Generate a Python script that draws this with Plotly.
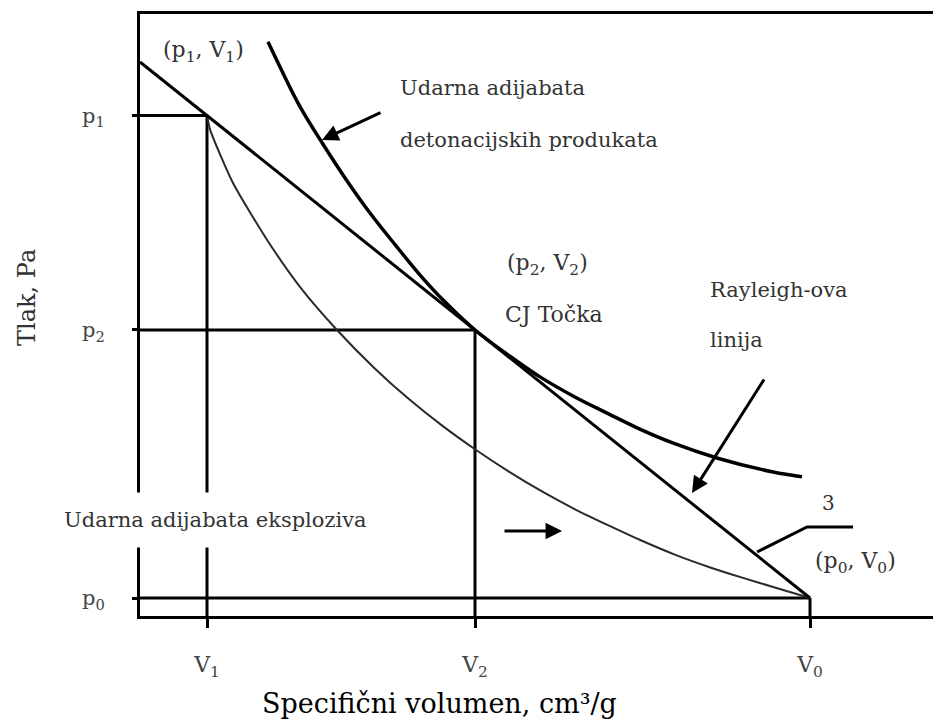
import plotly.graph_objects as go

# ---- data (schematic units) ----
V1, V2, V0 = 1.0, 5.0, 10.0
p0, p2, p1 = 1.0, 5.0, 8.2
tick_v = [V1, V2, V0]
tick_v_text = ["V<sub>1</sub>", "V<sub>2</sub>", "V<sub>0</sub>"]
tick_p = [p0, p2, p1]
tick_p_text = ["p<sub>0</sub>", "p<sub>2</sub>", "p<sub>1</sub>"]

# Rayleigh line through (V0,p0) and (V2,p2)
rayleigh_v = [0.0, V0]
rayleigh_p = [9.0, p0]

# shock adiabat of the explosive (thin curve)
expl_v = [1.0, 1.05, 1.39, 1.9, 2.39, 2.94, 3.5, 4.0, 4.5, 5.0, 5.5, 6.0, 6.5, 7.0,
          7.5, 8.0, 8.5, 9.0, 9.5, 10.0]
expl_p = [8.2, 7.98, 7.19, 6.34, 5.64, 5.0, 4.43, 3.98, 3.58, 3.22, 2.89, 2.59, 2.32,
          2.08, 1.85, 1.64, 1.46, 1.3, 1.15, 1.0]

# shock adiabat of the detonation products (thick curve)
det_v = [1.91, 2.16, 2.39, 2.72, 3.06, 3.43, 3.81, 4.18, 4.55, 5.0, 5.52, 5.97, 6.49,
         6.97, 7.46, 7.96, 8.61, 9.45, 9.88]
det_p = [9.30, 8.78, 8.33, 7.79, 7.27, 6.75, 6.27, 5.82, 5.42, 5.0, 4.61, 4.30, 4.0,
         3.76, 3.52, 3.31, 3.09, 2.88, 2.81]

XR = [0.0, 11.955]
YR = [0.7313, 9.716]

SERIF = "DejaVu Serif"
TXT = "#333333"

fig = go.Figure()

blk = dict(color="black", width=3)

# guide lines
ybot = YR[0]
fig.add_trace(go.Scatter(
    x=[0, V1, None, 0, V2, None, 0, V0, None, V1, V1, None, V2, V2, None, V0, V0],
    y=[p1, p1, None, p2, p2, None, p0, p0, None, ybot, p1, None, ybot, p2, None, ybot, p0],
    mode="lines", line=blk, hoverinfo="skip", showlegend=False, cliponaxis=False))

# explosive adiabat
fig.add_trace(go.Scatter(x=expl_v, y=expl_p, mode="lines",
                         line=dict(color="#2a2a2a", width=2, shape="spline", smoothing=0.6),
                         showlegend=False, hoverinfo="skip"))
# Rayleigh line
fig.add_trace(go.Scatter(x=rayleigh_v, y=rayleigh_p, mode="lines", line=blk,
                         showlegend=False, hoverinfo="skip", cliponaxis=False))
# detonation products adiabat
fig.add_trace(go.Scatter(x=det_v, y=det_p, mode="lines",
                         line=dict(color="black", width=3.5, shape="spline", smoothing=1.0),
                         showlegend=False, hoverinfo="skip"))

# leader line for label 3
fig.add_shape(type="path", xref="x", yref="y",
              path="M 9.209 1.687 L 9.955 2.06 L 10.642 2.06",
              line=dict(color="black", width=3))

ann = []
def label(text, x, y, xanchor="left", size=22, color=TXT, font=SERIF, ref="x", **kw):
    ann.append(dict(text=text, x=x, y=y,
                    xref="x" if ref == "x" else "paper",
                    yref="y" if ref == "x" else "paper",
                    xanchor=xanchor, yanchor="middle", showarrow=False,
                    font=dict(family=font, size=size, color=color), **kw))

label("(p<sub>1</sub>, V<sub>1</sub>)", 0.955, 9.149, xanchor="center")
label("Udarna adijabata", 3.851, 8.612, size=21)
label("detonacijskih produkata", 3.851, 7.836, size=21)
label("(p<sub>2</sub>, V<sub>2</sub>)", 5.448, 5.970)
label("CJ Točka", 5.418, 5.224)
label("Rayleigh-ova", 8.478, 5.597, size=21)
label("linija", 8.478, 4.851, size=21)
label("3", 10.269, 2.418, xanchor="center", size=20)
label("(p<sub>0</sub>, V<sub>0</sub>)", 10.045, 1.537)
# texts outside the plotting area (paper coordinates)
label("Udarna adijabata eksploziva", -0.1149, 0.1595, size=21, ref="paper",
      bgcolor="white", borderpad=15)
label("Tlak, Pa", -0.1411, 0.5299, xanchor="center", size=24, ref="paper", textangle=-90)
label("Specifični volumen, cm³/g", 0.3733, -0.145, xanchor="center", size=27,
      color="black", ref="paper")

def arrow(xh, yh, xt, yt):
    ann.append(dict(x=xh, y=yh, ax=xt, ay=yt, xref="x", yref="y", axref="x", ayref="y",
                    text="", showarrow=True, arrowhead=2, arrowsize=1.1, arrowwidth=3,
                    arrowcolor="black"))

arrow(2.716, 7.836, 3.612, 8.254)
arrow(8.239, 2.567, 9.328, 4.284)
arrow(6.299, 2.0, 5.418, 2.0)

fig.update_layout(
    width=933, height=714,
    margin=dict(l=132, r=0, t=6, b=106),
    paper_bgcolor="white", plot_bgcolor="white",
    annotations=ann,
    xaxis=dict(range=XR, showgrid=False, zeroline=False, showline=True, linecolor="black",
               linewidth=3, mirror=True, tickmode="array", tickvals=tick_v,
               ticktext=tick_v_text, ticks="outside", ticklen=9, tickwidth=3,
               tickcolor="black", ticklabelstandoff=18,
               tickfont=dict(family=SERIF, size=22, color="#444444")),
    yaxis=dict(range=YR, showgrid=False, zeroline=False, showline=True, linecolor="black",
               linewidth=3, tickmode="array", tickvals=tick_p, ticktext=tick_p_text,
               ticks="outside", ticklen=5, tickwidth=3, tickcolor="black",
               ticklabelstandoff=23,
               tickfont=dict(family=SERIF, size=21, color="#444444")),
)

fig.write_html("out.html")
